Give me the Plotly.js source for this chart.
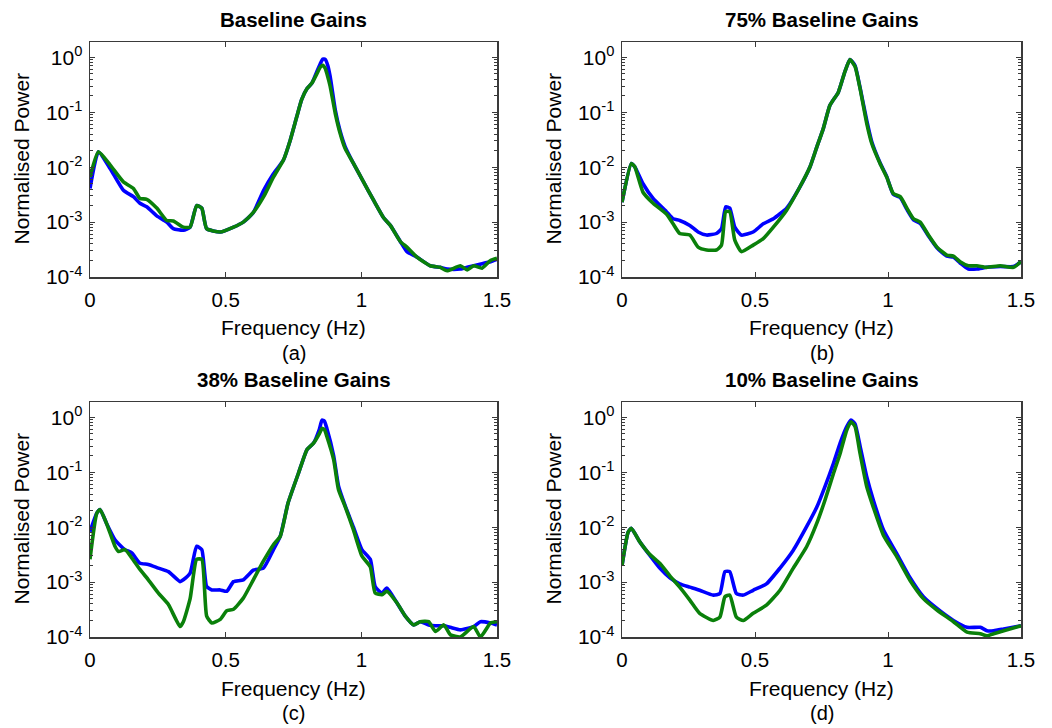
<!DOCTYPE html>
<html>
<head>
<meta charset="utf-8">
<script src="https://cdn.plot.ly/plotly-3.0.1.min.js"></script>
<style>html,body{margin:0;padding:0;background:#fff;} #chart{width:1052px;height:728px;}</style>
</head>
<body>
<div id="chart"></div>
<script>
// ---------- data ----------
const panelTitles = ["Baseline Gains", "75% Baseline Gains", "38% Baseline Gains", "10% Baseline Gains"];
const panelLetters = ["(a)", "(b)", "(c)", "(d)"];
const xTickVals = [0, 0.5, 1, 1.5];
const xTickText = ["0", "0.5", "1", "1.5"];
const yTickVals = [1e-4, 1e-3, 1e-2, 1e-1, 1];
const yTickText = ["10<sup>-4</sup>", "10<sup>-3</sup>", "10<sup>-2</sup>", "10<sup>-1</sup>", "10<sup>0</sup>"];

// Panel (a) Baseline Gains
const freqA = [0, 0.031, 0.074, 0.123, 0.16, 0.184, 0.209, 0.246, 0.283, 0.307, 0.344, 0.369, 0.393, 0.412, 0.43, 0.48, 0.529, 0.565, 0.602, 0.64, 0.676, 0.713, 0.738, 0.762, 0.78, 0.80, 0.818, 0.836, 0.848, 0.858, 0.867, 0.876, 0.885, 0.904, 0.922, 0.94, 0.971, 1.008, 1.045, 1.082, 1.107, 1.144, 1.168, 1.205, 1.254, 1.29, 1.316, 1.365, 1.39, 1.414, 1.445, 1.476, 1.5];
const blueA = [4.1e-3, 1.9e-2, 9.5e-3, 3.8e-3, 2.9e-3, 2.2e-3, 1.9e-3, 1.3e-3, 1.0e-3, 7.6e-4, 7.1e-4, 8.1e-4, 2.0e-3, 1.8e-3, 7.6e-4, 6.6e-4, 8.1e-4, 1.0e-3, 1.5e-3, 3.8e-3, 7.6e-3, 1.35e-2, 3.1e-2, 8.3e-2, 0.17, 0.27, 0.34, 0.55, 0.75, 0.93, 0.92, 0.72, 0.45, 0.11, 0.045, 0.024, 0.0117, 5.4e-3, 2.5e-3, 1.2e-3, 8.7e-4, 4.4e-4, 2.9e-4, 2.3e-4, 1.6e-4, 1.5e-4, 1.4e-4, 1.4e-4, 1.5e-4, 1.6e-4, 1.75e-4, 1.9e-4, 2.1e-4];
const greenA = [6.6e-3, 1.9e-2, 1.1e-2, 5.4e-3, 4.1e-3, 2.7e-3, 2.6e-3, 1.8e-3, 1.07e-3, 1.05e-3, 8.1e-4, 8.1e-4, 2.0e-3, 1.8e-3, 7.6e-4, 6.6e-4, 8.1e-4, 1.0e-3, 1.5e-3, 2.9e-3, 6.6e-3, 1.35e-2, 3.1e-2, 8.3e-2, 0.17, 0.27, 0.34, 0.5, 0.66, 0.72, 0.63, 0.45, 0.30, 0.095, 0.041, 0.022, 0.0117, 5.4e-3, 2.5e-3, 1.2e-3, 8.7e-4, 4.4e-4, 3.5e-4, 2.3e-4, 1.6e-4, 1.5e-4, 1.3e-4, 1.6e-4, 1.35e-4, 1.6e-4, 1.45e-4, 2.0e-4, 2.2e-4];

// Panel (b) 75% Baseline Gains
const freqB = [0, 0.035, 0.048, 0.079, 0.117, 0.167, 0.192, 0.217, 0.255, 0.286, 0.318, 0.355, 0.374, 0.39, 0.405, 0.424, 0.449, 0.493, 0.531, 0.569, 0.619, 0.669, 0.707, 0.732, 0.757, 0.782, 0.813, 0.838, 0.857, 0.876, 0.895, 0.92, 0.939, 0.97, 0.995, 1.02, 1.046, 1.071, 1.096, 1.121, 1.152, 1.184, 1.221, 1.246, 1.271, 1.302, 1.334, 1.371, 1.422, 1.472, 1.5];
const blueB = [2.3e-3, 1.17e-2, 1.02e-2, 5.0e-3, 2.7e-3, 1.55e-3, 1.15e-3, 1.07e-3, 8.7e-4, 6.6e-4, 5.8e-4, 6.2e-4, 7.6e-4, 1.9e-3, 1.8e-3, 8.1e-4, 5.8e-4, 6.6e-4, 9.3e-4, 1.15e-3, 1.8e-3, 4.4e-3, 1.02e-2, 2.3e-2, 5.1e-2, 0.135, 0.23, 0.55, 0.91, 0.71, 0.28, 0.071, 0.029, 1.2e-2, 6.8e-3, 3.2e-3, 2.8e-3, 1.7e-3, 1.1e-3, 9.5e-4, 5.6e-4, 3.4e-4, 2.4e-4, 2.3e-4, 1.8e-4, 1.4e-4, 1.4e-4, 1.5e-4, 1.55e-4, 1.55e-4, 1.9e-4];
const greenB = [2.3e-3, 1.17e-2, 1.02e-2, 3.5e-3, 2.2e-3, 1.4e-3, 9.3e-4, 6.2e-4, 5.8e-4, 3.5e-4, 3.1e-4, 3.1e-4, 3.8e-4, 1.55e-3, 1.55e-3, 4.7e-4, 2.9e-4, 3.8e-4, 5.0e-4, 8.1e-4, 1.65e-3, 4.4e-3, 1.02e-2, 2.3e-2, 5.1e-2, 0.135, 0.23, 0.55, 0.91, 0.68, 0.27, 0.063, 0.027, 1.17e-2, 6.6e-3, 3.3e-3, 2.9e-3, 1.8e-3, 1.15e-3, 1.0e-3, 5.8e-4, 3.5e-4, 2.5e-4, 2.4e-4, 1.9e-4, 1.6e-4, 1.6e-4, 1.5e-4, 1.6e-4, 1.5e-4, 1.9e-4];

// Panel (c) 38% Baseline Gains
const freqC = [0, 0.025, 0.037, 0.061, 0.092, 0.105, 0.129, 0.154, 0.184, 0.215, 0.252, 0.289, 0.332, 0.344, 0.369, 0.393, 0.412, 0.43, 0.449, 0.48, 0.504, 0.529, 0.565, 0.602, 0.639, 0.676, 0.701, 0.73, 0.768, 0.8, 0.824, 0.845, 0.855, 0.864, 0.873, 0.898, 0.916, 0.94, 0.971, 1.002, 1.033, 1.051, 1.076, 1.094, 1.131, 1.162, 1.193, 1.217, 1.248, 1.273, 1.304, 1.328, 1.365, 1.414, 1.439, 1.476, 1.5];
const blueC = [8.3e-3, 1.8e-2, 2.1e-2, 1.17e-2, 5.9e-3, 5.0e-3, 3.9e-3, 3.4e-3, 2.2e-3, 2.1e-3, 1.8e-3, 1.55e-3, 1.02e-3, 1.1e-3, 1.45e-3, 4.5e-3, 3.9e-3, 8.3e-4, 7.2e-4, 7.2e-4, 6.8e-4, 1.02e-3, 1.1e-3, 1.65e-3, 1.8e-3, 3.9e-3, 6.8e-3, 2.75e-2, 9.5e-2, 0.26, 0.34, 0.6, 0.89, 0.85, 0.63, 0.2, 0.056, 0.025, 0.01, 3.9e-3, 2.6e-3, 8.3e-4, 6.3e-4, 7.8e-4, 4.2e-4, 2.4e-4, 1.66e-4, 1.9e-4, 1.66e-4, 1.6e-4, 1.6e-4, 1.5e-4, 1.35e-4, 1.55e-4, 1.9e-4, 1.8e-4, 1.66e-4];
const greenC = [2.6e-3, 1.8e-2, 2.1e-2, 1.17e-2, 4.5e-3, 3.6e-3, 3.9e-3, 2.75e-3, 1.7e-3, 1.1e-3, 6.3e-4, 3.9e-4, 1.55e-4, 1.9e-4, 5.0e-4, 2.6e-3, 2.6e-3, 2.4e-4, 1.8e-4, 2.1e-4, 3.0e-4, 3.2e-4, 5.1e-4, 1.1e-3, 2.4e-3, 4.8e-3, 6.8e-3, 2.75e-2, 9.5e-2, 0.26, 0.34, 0.5, 0.63, 0.6, 0.45, 0.17, 0.048, 0.024, 8.9e-3, 3.0e-3, 1.9e-3, 6.3e-4, 5.9e-4, 6.8e-4, 4.2e-4, 2.4e-4, 1.66e-4, 1.9e-4, 1.9e-4, 1.26e-4, 1.66e-4, 1.1e-4, 1.0e-4, 1.55e-4, 1.0e-4, 1.8e-4, 1.9e-4];

// Panel (d) 10% Baseline Gains
const freqD = [0, 0.023, 0.035, 0.067, 0.104, 0.142, 0.18, 0.217, 0.255, 0.292, 0.343, 0.368, 0.387, 0.405, 0.43, 0.456, 0.493, 0.543, 0.594, 0.644, 0.694, 0.732, 0.763, 0.795, 0.82, 0.845, 0.861, 0.876, 0.895, 0.92, 0.945, 0.983, 1.033, 1.083, 1.133, 1.184, 1.246, 1.297, 1.347, 1.372, 1.397, 1.435, 1.5];
const blueD = [2.0e-3, 8.1e-3, 9.5e-3, 5.4e-3, 3.1e-3, 1.8e-3, 1.2e-3, 9.3e-4, 8.1e-4, 7.1e-4, 5.8e-4, 6.2e-4, 1.55e-3, 1.55e-3, 6.2e-4, 5.8e-4, 7.1e-4, 9.3e-4, 1.8e-3, 3.8e-3, 1.02e-2, 2.3e-2, 5.5e-2, 0.145, 0.34, 0.68, 0.89, 0.76, 0.30, 0.083, 0.031, 8.9e-3, 3.3e-3, 1.2e-3, 5.4e-4, 3.3e-4, 2.0e-4, 1.5e-4, 1.5e-4, 1.3e-4, 1.3e-4, 1.4e-4, 1.6e-4];
const greenD = [2.0e-3, 8.1e-3, 9.5e-3, 5.4e-3, 3.2e-3, 2.2e-3, 1.3e-3, 8.1e-4, 4.7e-4, 2.7e-4, 2.0e-4, 2.3e-4, 5.4e-4, 5.8e-4, 2.3e-4, 2.0e-4, 2.7e-4, 3.8e-4, 7.1e-4, 1.8e-3, 4.4e-3, 1.17e-2, 3.1e-2, 0.095, 0.22, 0.59, 0.83, 0.68, 0.22, 0.055, 0.023, 7.1e-3, 2.9e-3, 1.07e-3, 5.0e-4, 3.1e-4, 1.9e-4, 1.23e-4, 1.15e-4, 1.05e-4, 1.15e-4, 1.3e-4, 1.6e-4];

// ---------- layout helpers (pixel boxes of the four plot areas) ----------
const W = 1052, H = 728;
const boxes = [
  {x0: 90, x1: 497, y0: 42, y1: 277},
  {x0: 622, x1: 1021, y0: 42, y1: 277},
  {x0: 90, x1: 497, y0: 402, y1: 637},
  {x0: 622, x1: 1021, y0: 402, y1: 637}
];
const px = v => v / W;
const py = v => 1 - v / H;

const FONT = "Liberation Sans, Arial, Helvetica, sans-serif";
const BLUE = "#0000ff", GREEN = "#0a800a", FRAME = "#3a3a3a";

const minorVals = [];
[1e-4, 1e-3, 1e-2, 1e-1].forEach(d => { for (let k = 2; k <= 9; k++) minorVals.push(d * k); });

const series = [
  [freqA, blueA, greenA],
  [freqB, blueB, greenB],
  [freqC, blueC, greenC],
  [freqD, blueD, greenD]
];

const data = [];
const layout = {
  width: W, height: H,
  margin: {l: 0, r: 0, t: 0, b: 0},
  paper_bgcolor: "#fff", plot_bgcolor: "#fff",
  showlegend: false,
  font: {family: FONT, color: "#000", size: 20},
  annotations: []
};

series.forEach((s, i) => {
  const n = i + 1;
  const xa = n === 1 ? "x" : "x" + n, ya = n === 1 ? "y" : "y" + n;
  data.push({x: s[0], y: s[1], xaxis: xa, yaxis: ya, type: "scatter", mode: "lines",
             line: {color: BLUE, width: 3.6, shape: "spline", smoothing: 0.5}, hoverinfo: "skip"});
  data.push({x: s[0], y: s[2], xaxis: xa, yaxis: ya, type: "scatter", mode: "lines",
             line: {color: GREEN, width: 3.6, shape: "spline", smoothing: 0.5}, hoverinfo: "skip"});
  const b = boxes[i];
  layout["xaxis" + (n === 1 ? "" : n)] = {
    domain: [px(b.x0), px(b.x1)], anchor: ya, range: [0, 1.5],
    tickmode: "array", tickvals: xTickVals, ticktext: xTickText,
    ticks: "inside", ticklen: 5, tickwidth: 1, tickcolor: FRAME,
    showline: true, linecolor: FRAME, linewidth: 1.5, mirror: "allticks",
    showgrid: false, zeroline: false, fixedrange: true,
    tickfont: {family: FONT, size: 20.5, color: "#000"}, ticklabelstandoff: 4
  };
  layout["yaxis" + (n === 1 ? "" : n)] = {
    domain: [py(b.y1), py(b.y0)], anchor: xa, type: "log", range: [-4, 0.28],
    tickmode: "array", tickvals: yTickVals, ticktext: yTickText,
    ticks: "inside", ticklen: 5, tickwidth: 1, tickcolor: FRAME,
    minor: {tickmode: "array", tickvals: minorVals, ticks: "inside", ticklen: 3, tickcolor: FRAME, showgrid: false},
    showline: true, linecolor: FRAME, linewidth: 1.5, mirror: "allticks",
    showgrid: false, zeroline: false, fixedrange: true,
    tickfont: {family: FONT, size: 21, color: "#000"}, ticklabelstandoff: 2
  };
  const cx = (b.x0 + b.x1) / 2, cy = (b.y0 + b.y1) / 2;
  layout.annotations.push(
    {text: "<b>" + panelTitles[i] + "</b>", xref: "paper", yref: "paper", x: px(cx), y: py(b.y0 - 23),
     xanchor: "center", yanchor: "middle", showarrow: false, font: {family: FONT, size: 20.5, color: "#000"}},
    {text: "Frequency (Hz)", xref: "paper", yref: "paper", x: px(cx), y: py(b.y1 + 51),
     xanchor: "center", yanchor: "middle", showarrow: false, font: {family: FONT, size: 21, color: "#000"}},
    {text: panelLetters[i], xref: "paper", yref: "paper", x: px(cx), y: py(b.y1 + 76),
     xanchor: "center", yanchor: "middle", showarrow: false, font: {family: FONT, size: 20, color: "#000"}},
    {text: "Normalised Power", xref: "paper", yref: "paper", x: px(b.x0 - 69), y: py(cy - 1), textangle: -90,
     xanchor: "center", yanchor: "middle", showarrow: false, font: {family: FONT, size: 21, color: "#000"}}
  );
});

Plotly.newPlot("chart", data, layout, {staticPlot: true, displayModeBar: false});
</script>
</body>
</html>
